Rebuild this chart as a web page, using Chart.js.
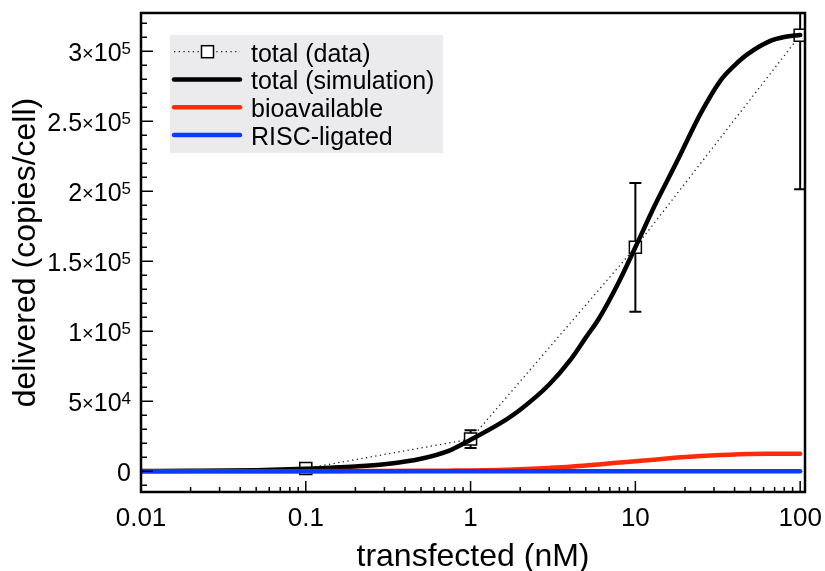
<!DOCTYPE html>
<html><head><meta charset="utf-8">
<script src="https://cdn.jsdelivr.net/npm/chart.js@4.4.1/dist/chart.umd.min.js"></script>
<style>html,body{margin:0;padding:0;background:#fff}#wrap{width:825px;height:571px;position:relative}</style>
</head><body><div id="wrap"><canvas id="c" width="825" height="571"></canvas></div>
<script>
const FONT = '"Liberation Sans", Arial, Helvetica, sans-serif';

// tick labels
const xTickValues = [0.01, 0.1, 1, 10, 100];
const xTickLabels = ['0.01', '0.1', '1', '10', '100'];
const yTickValues = [0, 50000, 100000, 150000, 200000, 250000, 300000];
const yTickMant = ['0', '5', '1', '1.5', '2', '2.5', '3'];
const yTickExp = ['', '4', '5', '5', '5', '5', '5'];

// measured data (total)
const dataX = [0.1, 1, 10, 100];
const dataY = [2000, 23000, 160000, 311500];
const dataErr = [3500, 6300, 46000, 110000];

// simulation curves
const simX = [0.01, 0.02, 0.05, 0.1, 0.2, 0.3, 0.5, 0.75, 1, 1.5, 2, 3, 4, 5, 6, 8, 10, 13, 18, 25, 33, 40, 48, 66, 80, 100];
const simTotal = [150, 300, 800, 1800, 3400, 5000, 9000, 15000, 22500, 34000, 44000, 62000, 79000, 95500, 109000, 136000, 160000, 189000, 222000, 256000, 279500, 290000, 298000, 307500, 310300, 311700];
const simBio = [5, 10, 30, 60, 120, 180, 300, 450, 600, 1000, 1500, 2400, 3200, 4100, 4900, 6200, 7200, 8300, 9800, 11000, 11700, 12000, 12300, 12500, 12550, 12600];
const simRisc = [0, 0, 0, 0, 0, 0, 0, 0, 0, 0, 0, 0, 0, 0, 0, 0, 0, 0, 0, 0, 0, 0, 0, 0, 0, 0];

const pts = (xs, ys) => xs.map((x, i) => ({x: x, y: ys[i]}));

const errorBars = {
  id: 'errorBars',
  beforeDatasetsDraw(chart) {
    const {ctx, chartArea: a, scales: {x, y}} = chart;
    ctx.save();
    ctx.beginPath(); ctx.rect(a.left, a.top, a.right - a.left, a.bottom - a.top); ctx.clip();
    ctx.strokeStyle = '#000'; ctx.lineWidth = 2;
    dataX.forEach((xv, i) => {
      const px = x.getPixelForValue(xv);
      const y1 = y.getPixelForValue(dataY[i] + dataErr[i]);
      const y2 = y.getPixelForValue(dataY[i] - dataErr[i]);
      ctx.beginPath();
      ctx.moveTo(px, y1); ctx.lineTo(px, y2);
      ctx.moveTo(px - 6, y1); ctx.lineTo(px + 6, y1);
      ctx.moveTo(px - 6, y2); ctx.lineTo(px + 6, y2);
      ctx.stroke();
    });
    ctx.restore();
  }
};

const frame = {
  id: 'frame',
  afterDraw(chart) {
    const {ctx, chartArea: a, scales: {x, y}} = chart;
    ctx.save();
    ctx.strokeStyle = '#000';
    // x ticks (inward from bottom)
    ctx.lineWidth = 1.5;
    ctx.beginPath();
    for (let d = -2; d <= 1; d++) {
      for (let m = 1; m <= 9; m++) {
        const v = m * Math.pow(10, d);
        const px = x.getPixelForValue(v);
        const len = m === 1 ? 11 : 5;
        ctx.moveTo(px, a.bottom); ctx.lineTo(px, a.bottom - len);
      }
    }
    const p100 = x.getPixelForValue(100);
    ctx.moveTo(p100, a.bottom); ctx.lineTo(p100, a.bottom - 11);
    // y ticks (inward from left)
    for (let v = -10000; v <= 320000; v += 10000) {
      const py = y.getPixelForValue(v);
      const len = v % 50000 === 0 ? 12 : 6;
      ctx.moveTo(a.left, py); ctx.lineTo(a.left + len, py);
    }
    ctx.stroke();
    // box
    ctx.lineWidth = 2.5;
    ctx.strokeRect(a.left, a.top, a.right - a.left, a.bottom - a.top);
    // y tick labels with superscripts
    ctx.fillStyle = '#000';
    ctx.textBaseline = 'alphabetic';
    yTickValues.forEach((v, i) => {
      const py = y.getPixelForValue(v);
      const base = py + 10;
      const mainFont = '25px ' + FONT, timesFont = '20px ' + FONT, supFont = '17px ' + FONT;
      if (!yTickExp[i]) {
        ctx.font = mainFont; ctx.textAlign = 'right';
        ctx.fillText(yTickMant[i], 131, base);
        return;
      }
      ctx.font = mainFont; const w1 = ctx.measureText(yTickMant[i]).width;
      ctx.font = timesFont; const w2 = ctx.measureText('×').width;
      ctx.font = mainFont; const w3 = ctx.measureText('10').width;
      ctx.font = supFont; const w4 = ctx.measureText(yTickExp[i]).width;
      let xs = 131 - (w1 + w2 + w3 + w4);
      ctx.textAlign = 'left';
      ctx.font = mainFont; ctx.fillText(yTickMant[i], xs, base); xs += w1;
      ctx.font = timesFont; ctx.fillText('×', xs, base - 1); xs += w2;
      ctx.font = mainFont; ctx.fillText('10', xs, base); xs += w3;
      ctx.font = supFont; ctx.fillText(yTickExp[i], xs, py + 3);
    });
    ctx.restore();
  }
};

const legendBox = {
  id: 'legendBox',
  afterDraw(chart) {
    const {ctx} = chart;
    const ds = chart.data.datasets;
    ctx.save();
    ctx.fillStyle = '#ebebee';
    ctx.fillRect(170, 35, 273, 118);
    const rowY = [51.7, 79.4, 107.2, 135];
    ds.forEach((d, i) => {
      const yy = rowY[i];
      ctx.save();
      ctx.strokeStyle = d.borderColor;
      ctx.lineWidth = d.borderWidth;
      ctx.setLineDash(d.borderDash || []);
      ctx.lineCap = d.borderDash ? 'butt' : 'round';
      ctx.beginPath(); ctx.moveTo(174, yy); ctx.lineTo(240, yy); ctx.stroke();
      ctx.restore();
      if (d.pointRadius > 0) {
        ctx.fillStyle = '#fff'; ctx.strokeStyle = '#000'; ctx.lineWidth = 1.5;
        ctx.fillRect(201.5, yy - 6, 12, 12);
        ctx.strokeRect(201.5, yy - 6, 12, 12);
      }
      ctx.fillStyle = '#000';
      ctx.font = '25px ' + FONT;
      ctx.textAlign = 'left'; ctx.textBaseline = 'alphabetic';
      ctx.fillText(d.label, 251, yy + 10);
    });
    ctx.restore();
  }
};

new Chart(document.getElementById('c'), {
  type: 'line',
  data: {
    datasets: [
      {label: 'total (data)', data: pts(dataX, dataY), borderColor: '#222', borderWidth: 1.3, borderDash: [1.3, 3.4],
       pointStyle: 'rect', pointRadius: 8.5, pointBackgroundColor: '#fff', pointBorderColor: '#000', pointBorderWidth: 1.5,
       tension: 0, order: 4},
      {label: 'total (simulation)', data: pts(simX, simTotal), borderColor: '#000', borderWidth: 4.5, pointRadius: 0,
       cubicInterpolationMode: 'monotone', borderCapStyle: 'round', order: 3},
      {label: 'bioavailable', data: pts(simX, simBio), borderColor: '#ff2a0a', borderWidth: 4.5, pointRadius: 0,
       cubicInterpolationMode: 'monotone', borderCapStyle: 'round', order: 2},
      {label: 'RISC-ligated', data: pts(simX, simRisc), borderColor: '#0a3bff', borderWidth: 4.5, pointRadius: 0,
       cubicInterpolationMode: 'monotone', borderCapStyle: 'round', order: 1}
    ]
  },
  options: {
    responsive: false, animation: false, devicePixelRatio: 1,
    layout: {padding: {top: 13, right: 20, left: 0, bottom: 0}},
    plugins: {legend: {display: false}, tooltip: {enabled: false}},
    scales: {
      x: {
        type: 'logarithmic', min: 0.01, max: 107, position: 'bottom',
        afterBuildTicks: s => { s.ticks = xTickValues.map(v => ({value: v, major: true})); },
        afterFit: s => { s.height = 79; s.paddingLeft = 0; s.paddingRight = 0; },
        grid: {display: false, drawTicks: false}, border: {display: false},
        ticks: {autoSkip: false, maxRotation: 0, minRotation: 0, padding: 11, color: '#000',
          font: {family: FONT, size: 26},
          callback: (v) => { const i = xTickValues.findIndex(t => Math.abs(t - v) / t < 1e-6); return i >= 0 ? xTickLabels[i] : ''; }},
        title: {display: true, text: 'transfected (nM)', color: '#000',
          font: {family: FONT, size: 32, lineHeight: 0.875}, padding: {top: 0, bottom: 0}}
      },
      y: {
        type: 'linear', min: -14800, max: 327400,
        afterFit: s => { s.width = 141; s.paddingTop = 0; s.paddingBottom = 0; },
        grid: {display: false, drawTicks: false}, border: {display: false},
        ticks: {display: false},
        title: {display: true, text: 'delivered (copies/cell)', color: '#000',
          font: {family: FONT, size: 32, lineHeight: 0.875}, padding: {top: 12, bottom: 0}}
      }
    }
  },
  plugins: [errorBars, frame, legendBox]
});
</script>
</body></html>
